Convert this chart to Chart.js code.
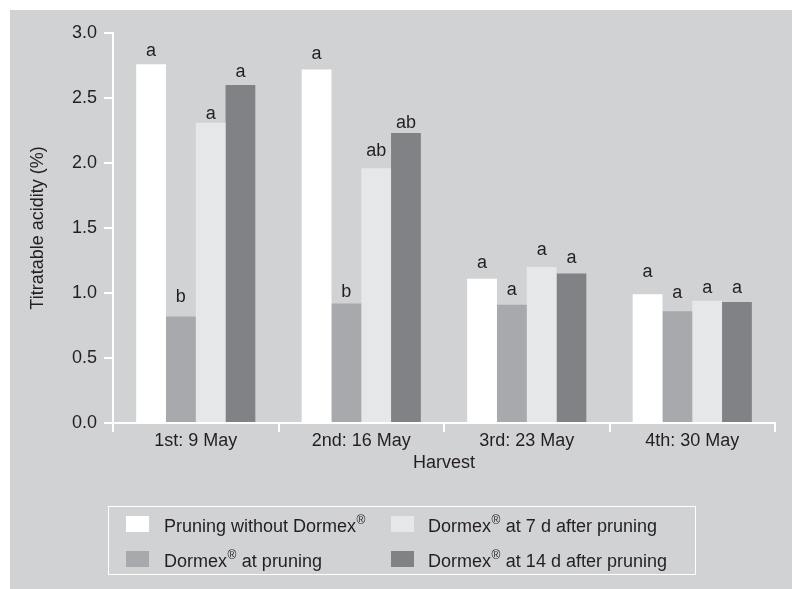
<!DOCTYPE html>
<html>
<head>
<meta charset="utf-8">
<script src="https://cdn.jsdelivr.net/npm/chart.js@4.4.0/dist/chart.umd.min.js"></script>
<style>
  body { margin: 0; background: #ffffff; }
  #wrap { width: 792px; height: 589px; }
</style>
</head>
<body>
<div id="wrap"><canvas id="acidity"></canvas></div>
<script>
var harvests = ["1st: 9 May", "2nd: 16 May", "3rd: 23 May", "4th: 30 May"];
var seriesNames = ["Pruning without Dormex®", "Dormex® at pruning", "Dormex® at 7 d after pruning", "Dormex® at 14 d after pruning"];
var noDormex = [2.76, 2.72, 1.11, 0.99];
var atPruning = [0.82, 0.92, 0.91, 0.86];
var after7d = [2.31, 1.96, 1.20, 0.94];
var after14d = [2.60, 2.23, 1.15, 0.93];
// standard errors (not drawn) - letters sit just above them
var seNoDormex = [0.03, 0.05, 0.05, 0.10];
var seAtPruning = [0.08, 0.015, 0.045, 0.07];
var se7d = [0.0, 0.06, 0.06, 0.03];
var se14d = [0.03, 0.01, 0.05, 0.04];
var letNoDormex = ["a", "a", "a", "a"];
var letAtPruning = ["b", "b", "a", "a"];
var let7d = ["a", "ab", "a", "a"];
var let14d = ["a", "ab", "a", "a"];
var yTicks = [0, 0.5, 1.0, 1.5, 2.0, 2.5, 3.0];

var ink = '#231f20';
var fontFam = "'Liberation Sans', Arial, sans-serif";
var colours = ['#ffffff', '#a7a9ac', '#e6e7e8', '#808285'];
var letters = [letNoDormex, letAtPruning, let7d, let14d];
var errs = [seNoDormex, seAtPruning, se7d, se14d];

// text with a raised, smaller ® sign
function drawReg(c, text, x, y, size) {
    var parts = text.split('®');
    c.textAlign = 'left';
    c.textBaseline = 'alphabetic';
    for (var i = 0; i < parts.length; i++) {
        c.font = size + 'px ' + fontFam;
        c.fillText(parts[i], x, y);
        x += c.measureText(parts[i]).width;
        if (i < parts.length - 1) {
            c.font = Math.round(size * 0.68) + 'px ' + fontFam;
            c.fillText('®', x + 0.5, y - size * 0.42);
            x += c.measureText('®').width + 1;
        }
    }
}

var panel = {
    id: 'panel',
    beforeDraw: function (chart) {
        var c = chart.ctx;
        c.save();
        c.fillStyle = '#d1d2d4';
        c.fillRect(10, 10, chart.width - 10, chart.height - 10);
        c.restore();
    },
    afterDatasetsDraw: function (chart) {
        var c = chart.ctx;
        var y = chart.scales.y;
        c.save();
        c.fillStyle = ink;
        c.font = '18px ' + fontFam;
        c.textAlign = 'center';
        c.textBaseline = 'alphabetic';
        chart.data.datasets.forEach(function (ds, d) {
            var meta = chart.getDatasetMeta(d);
            meta.data.forEach(function (bar, i) {
                var top = y.getPixelForValue(ds.data[i] + errs[d][i]);
                c.fillText(letters[d][i], bar.x, top - 4);
            });
        });
        c.restore();
    },
    afterDraw: function (chart) {
        var c = chart.ctx;
        var area = chart.chartArea;
        c.save();
        c.fillStyle = ink;
        // axis titles
        c.font = '18px ' + fontFam;
        c.textAlign = 'center';
        c.textBaseline = 'middle';
        c.fillText('Harvest', (area.left + area.right) / 2, 463);
        c.translate(38, (area.top + area.bottom) / 2);
        c.rotate(-Math.PI / 2);
        c.fillText('Titratable acidity (%)', 0, 0);
        c.setTransform(1, 0, 0, 1, 0, 0);
        c.scale(chart.currentDevicePixelRatio, chart.currentDevicePixelRatio);
        // legend box
        c.strokeStyle = '#ffffff';
        c.lineWidth = 1;
        c.strokeRect(108.5, 506.5, 587, 68);
        var spots = [[126, 516, 164, 532], [126, 551, 164, 567], [391, 516, 428, 532], [391, 551, 428, 567]];
        chart.data.datasets.forEach(function (ds, d) {
            var s = spots[d];
            c.fillStyle = ds.backgroundColor;
            c.fillRect(s[0], s[1], 23, 16);
            c.fillStyle = ink;
            drawReg(c, ds.label, s[2], s[3], 18);
        });
        c.restore();
    }
};

var ctx = document.getElementById('acidity').getContext('2d');
var myChart = new Chart(ctx, {
    type: 'bar',
    data: {
        labels: harvests,
        datasets: [
            { label: seriesNames[0], data: noDormex, backgroundColor: colours[0] },
            { label: seriesNames[1], data: atPruning, backgroundColor: colours[1] },
            { label: seriesNames[2], data: after7d, backgroundColor: colours[2] },
            { label: seriesNames[3], data: after14d, backgroundColor: colours[3] }
        ]
    },
    options: {
        responsive: true,
        maintainAspectRatio: false,
        animation: false,
        layout: { padding: { top: 33, right: 17, left: 0, bottom: 0 } },
        datasets: { bar: { categoryPercentage: 0.72, barPercentage: 1.0, borderWidth: 0 } },
        plugins: {
            legend: { display: false },
            tooltip: { enabled: false }
        },
        scales: {
            x: {
                afterFit: function (s) { s.height = 166; },
                grid: { offset: true, drawOnChartArea: false, drawTicks: true, tickLength: 9, color: '#ffffff', lineWidth: 2 },
                border: { color: '#ffffff', width: 2 },
                ticks: { color: ink, padding: 0, font: { family: fontFam, size: 18, lineHeight: 1 } }
            },
            y: {
                min: 0,
                max: 3,
                afterFit: function (s) { s.width = 113; },
                afterBuildTicks: function (s) { s.ticks = yTicks.map(function (v) { return { value: v }; }); },
                grid: { drawOnChartArea: false, drawTicks: true, tickLength: 9, color: '#ffffff', lineWidth: 2 },
                border: { color: '#ffffff', width: 2 },
                ticks: {
                    color: ink,
                    padding: 7,
                    font: { family: fontFam, size: 18 },
                    callback: function (v) { return v.toFixed(1); }
                }
            }
        }
    },
    plugins: [panel]
});
</script>
</body>
</html>
